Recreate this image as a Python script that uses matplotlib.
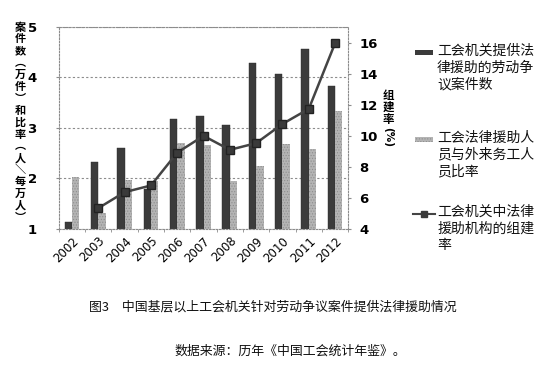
import matplotlib
matplotlib.use("Agg")
import matplotlib.pyplot as plt
import numpy as np
from matplotlib.patches import Rectangle
from matplotlib.lines import Line2D

plt.rcParams['font.family'] = ['Noto Sans CJK SC', 'DejaVu Sans']
plt.rcParams['hatch.linewidth'] = 0.5

# data
years = ['2002', '2003', '2004', '2005', '2006', '2007',
         '2008', '2009', '2010', '2011', '2012']
cases = [1.14, 2.33, 2.61, 1.79, 3.17, 3.24, 3.05, 4.29, 4.06, 4.57, 3.83]
ratio = [2.02, 1.32, 1.96, 1.95, 2.70, 2.66, 1.95, 2.25, 2.68, 2.59, 3.34]
rate_years = years[1:]
rate = [5.34, 6.37, 6.80, 8.92, 10.0, 9.10, 9.53, 10.77, 11.74, 15.98]

label_cases = '工会机关提供法\n律援助的劳动争\n议案件数'
label_ratio = '工会法律援助人\n员与外来务工人\n员比率'
label_rate = '工会机关中法律\n援助机构的组建\n率'
left_title = '案件数︵万件︶和比率︵人＼每万人︶'
right_title = '组建率'

DARK = '#3b3b3b'
LIGHT = '#b4b4b4'
GRID = '#8c8c8c'

fig = plt.figure(figsize=(5.45, 3.68), dpi=100)
ax = fig.add_axes([0.108, 0.378, 0.531, 0.549])

x = np.arange(len(years))
w = 0.28
ax.bar(x - w / 2, cases, w, bottom=0, color=DARK, edgecolor='#2a2a2a',
       linewidth=0.3, zorder=2)
ax.bar(x + w / 2, ratio, w, bottom=0, color=LIGHT, edgecolor='#8e8e8e',
       hatch='......', linewidth=0, zorder=2)

ax.set_xlim(-0.5, len(years) - 0.5)
ax.set_ylim(1, 5)
ax.set_yticks([1, 2, 3, 4, 5])
ax.set_xticks(x)
ax.set_xticklabels(years, rotation=45, ha='right', rotation_mode='anchor',
                   fontsize=8.5, family='DejaVu Sans')
ax.set_xticks(np.arange(-0.5, len(years)), minor=True)
ax.tick_params(axis='x', which='major', length=0, pad=4)
ax.tick_params(axis='x', which='minor', length=2, color=GRID, direction='out')
ax.tick_params(axis='y', length=2, color=GRID, labelsize=9.5, pad=14)
for t in ax.get_yticklabels():
    t.set_fontweight('bold')
    t.set_family('DejaVu Sans')
ax.grid(axis='y', color=GRID, linestyle=(0, (2, 2)), linewidth=0.8)
ax.set_axisbelow(True)
for s in ax.spines.values():
    s.set_color(GRID)
    s.set_linestyle((0, (1.5, 1.5)))
    s.set_linewidth(0.8)

ax2 = ax.twinx()
ax2.plot(np.arange(1, len(years)), rate, color='#444444', linewidth=1.8,
         marker='s', markersize=5.5, markerfacecolor='#3a3a3a',
         markeredgecolor='#222222', zorder=3)
ax2.set_ylim(4, 17.03)
ax2.set_yticks([4, 6, 8, 10, 12, 14, 16])
ax2.tick_params(axis='y', length=2, color=GRID, labelsize=9.5, pad=6)
for t in ax2.get_yticklabels():
    t.set_fontweight('bold')
    t.set_family('DejaVu Sans')
for s in ax2.spines.values():
    s.set_visible(False)

# left axis title, one glyph per row (vertical writing)
for i, ch in enumerate(left_title):
    fig.text(20 / 545, 1 - (27 + i * 11.9) / 368, ch, ha='center', va='center',
             fontsize=8, fontweight='bold')

# right axis title
for i, ch in enumerate(right_title):
    fig.text(388 / 545, 1 - (96 + i * 11.5) / 368, ch, ha='center',
             va='center', fontsize=8.3, fontweight='bold')
fig.text(388 / 545, 1 - 137 / 368, '(%)', ha='center', va='center',
         rotation=-90, fontsize=7.5, fontweight='bold', family='DejaVu Sans')

# legend drawn by hand so that the key sits on the first line
fig.patches.append(Rectangle((415 / 545, 1 - 55 / 368), 18 / 545, 5 / 368,
                             transform=fig.transFigure, facecolor=DARK,
                             edgecolor='none'))
fig.patches.append(Rectangle((415 / 545, 1 - 142 / 368), 18 / 545, 5 / 368,
                             transform=fig.transFigure, facecolor=LIGHT,
                             edgecolor='#8e8e8e', hatch='......', linewidth=0))
fig.lines.append(Line2D([413 / 545, 435 / 545], [1 - 214 / 368, 1 - 214 / 368],
                        transform=fig.transFigure, color='#444444',
                        linewidth=1.5))
fig.lines.append(Line2D([424 / 545], [1 - 214 / 368],
                        transform=fig.transFigure, color='#3a3a3a',
                        marker='s', markersize=4.5, linestyle='none'))

for label, ytop in [(label_cases, 44), (label_ratio, 131), (label_rate, 205)]:
    fig.text(437 / 545, 1 - ytop / 368, label, ha='left', va='top',
             fontsize=10, linespacing=1.25, color='#111111')

fig.text(0.5, 1 - 307 / 368,
         '图3　中国基层以上工会机关针对劳动争议案件提供法律援助情况',
         ha='center', va='center', fontsize=9.3, color='#111111')
fig.text(0.532, 1 - 351 / 368, '数据来源：历年《中国工会统计年鉴》。',
         ha='center', va='center', fontsize=9.3, color='#111111')

fig.savefig('out.png', dpi=100)
